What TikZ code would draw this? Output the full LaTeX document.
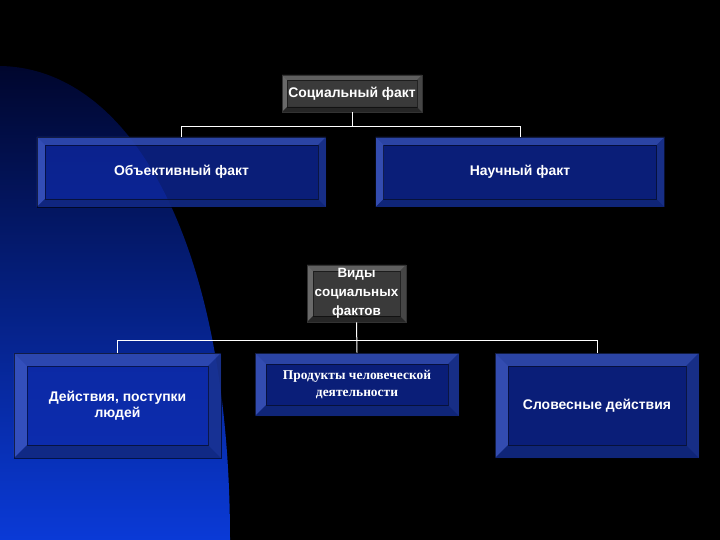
\documentclass[tikz,border=0pt]{standalone}
\usepackage{fontspec}
\usetikzlibrary{calc}
\setmainfont{Liberation Sans}
\newfontfamily\timesf{Liberation Serif}
\definecolor{bgblueA}{RGB}{0,6,45}
\definecolor{bgblueB}{RGB}{10,58,215}
\definecolor{bface}{RGB}{15,43,171}
\definecolor{btop}{RGB}{55,82,180}
\definecolor{bleft}{RGB}{65,92,195}
\definecolor{bbot}{RGB}{18,40,120}
\definecolor{bright}{RGB}{28,52,140}
\definecolor{gface}{RGB}{58,58,58}
\definecolor{gtop}{RGB}{95,95,95}
\definecolor{gleft}{RGB}{105,105,105}
\definecolor{gbot}{RGB}{38,38,38}
\definecolor{gright}{RGB}{70,70,70}
\newcommand\bevfacets[6]{%
 \path (path picture bounding box.north west) coordinate (bNW)
       (path picture bounding box.north east) coordinate (bNE)
       (path picture bounding box.south west) coordinate (bSW)
       (path picture bounding box.south east) coordinate (bSE);
 \fill[#2,fill opacity=#6] (bNW) -- (bNE) -- ([shift={(-#1,#1)}]bNE) -- ([shift={(#1,#1)}]bNW) -- cycle;
 \fill[#3,fill opacity=#6] (bNW) -- ([shift={(#1,#1)}]bNW) -- ([shift={(#1,-#1)}]bSW) -- (bSW) -- cycle;
 \fill[#4,fill opacity=#6] (bSW) -- ([shift={(#1,-#1)}]bSW) -- ([shift={(-#1,-#1)}]bSE) -- (bSE) -- cycle;
 \fill[#5,fill opacity=#6] (bNE) -- (bSE) -- ([shift={(-#1,-#1)}]bSE) -- ([shift={(-#1,#1)}]bNE) -- cycle;
 \draw[black,draw opacity=0.5,line width=0.6bp] ([shift={(#1,#1)}]bNW) rectangle ([shift={(-#1,-#1)}]bSE);
}
\tikzset{
  boxtext/.style={text=white, font=\bfseries\fontsize{14}{16}\selectfont, align=center, inner sep=0pt, text opacity=1},
  bluebox/.style={rectangle, boxtext, fill=bface, fill opacity=0.7, draw=black, draw opacity=0.6, line width=0.6bp,
     path picture={\bevfacets{#1}{btop}{bleft}{bbot}{bright}{0.75}}},
  graybox/.style={rectangle, boxtext, fill=gface, draw=black!80, line width=0.6bp,
     path picture={\bevfacets{#1}{gtop}{gleft}{gbot}{gright}{1}}},
  conn/.style={draw=white, line width=1bp}
}
\begin{document}
\begin{tikzpicture}[x=1bp,y=-1bp]
\useasboundingbox (0,0) rectangle (720,540);
\fill[black] (0,0) rectangle (720,540);
\shade[top color=bgblueA, bottom color=bgblueB]
  (0,66) .. controls (130,68) and (230,240) .. (230,540) -- (0,540) -- cycle;

\node[graybox=5, minimum width=140bp, minimum height=37bp] (soc) at (352,93.5) {Социальный факт};
\node[bluebox=8, minimum width=289bp, minimum height=70bp] (obj) at (181.5,172) {Объективный факт};
\node[bluebox=8, minimum width=289bp, minimum height=70bp] (nauch) at (520,172) {Научный факт};

\node[graybox=6, minimum width=99bp, minimum height=57bp, font=\bfseries\fontsize{13.5}{19}\selectfont] (vidy) at (356.5,293.5)
  {Виды\\социальных\\фактов};

\node[bluebox=13, minimum width=207bp, minimum height=105bp] (dejs) at (117.5,405.5)
  {Действия, поступки\\людей};
\node[bluebox=11, minimum width=204bp, minimum height=63bp, font=\timesf\bfseries\fontsize{13.5}{16.5}\selectfont] (prod) at (357,384.5)
  {Продукты человеческой\\деятельности};
\node[bluebox=13, minimum width=204bp, minimum height=105bp] (slov) at (597,405.5)
  {Словесные действия};

\draw[conn] (soc.south) -- ++(0,14) coordinate (j1);
\draw[conn] (obj.north) |- (j1) -| (nauch.north);
\draw[conn] (vidy.south) -- (prod.north);
\coordinate (j2) at ($(vidy.south)+(0,18)$);
\draw[conn] (dejs.north) |- (j2) -| (slov.north);
\end{tikzpicture}
\end{document}
